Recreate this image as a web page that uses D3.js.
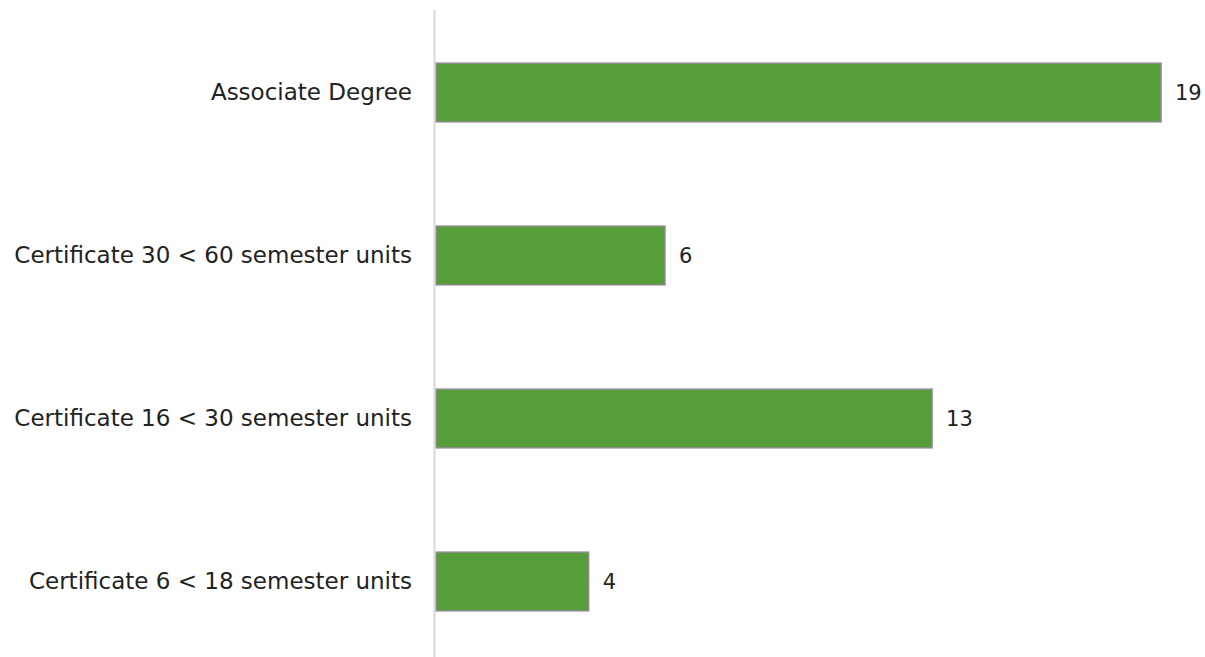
<!DOCTYPE html>
<html>
<head>
<meta charset="utf-8">
<script src="https://cdn.jsdelivr.net/npm/d3@7"></script>
<style>
  body { margin: 0; background: #fff; }
  text { font-family: "DejaVu Sans", sans-serif; fill: #222; }
</style>
</head>
<body>
<div id="chart-area"></div>
<script>
// SVG Size
var width = 1205,
	height = 657;

// data
var categories = ["Associate Degree", "Certificate 30 < 60 semester units", "Certificate 16 < 30 semester units", "Certificate 6 < 18 semester units"];
var values = [19, 6, 13, 4];

var data = categories.map(function(c, i){ return {name: c, value: values[i]}; });

var svg = d3.select("#chart-area")
		.append("svg")
		.attr("width", width)
		.attr("height", height);

var x = d3.scaleLinear()
		.domain([0, 19])
		.range([436, 1161]);

var y = d3.scaleBand()
		.domain(categories)
		.range([11, 663])
		.paddingInner(0.64)
		.paddingOuter(0.32);

// bars
svg.selectAll("rect.bar")
		.data(data)
		.enter()
		.append("rect")
		.attr("class", "bar")
		.attr("x", x(0))
		.attr("y", function(d){ return y(d.name); })
		.attr("width", function(d){ return x(d.value) - x(0); })
		.attr("height", y.bandwidth())
		.attr("fill", "#559e3a")
		.attr("stroke", "#8c8c8c")
		.attr("stroke-width", 1.5);

// axis line
svg.append("line")
		.attr("x1", 434.5).attr("x2", 434.5)
		.attr("y1", 10).attr("y2", height)
		.attr("stroke", "#d9d9d9")
		.attr("stroke-width", 2);

// category labels
var yAxis = d3.axisLeft(y).tickSize(0).tickPadding(0);
var g = svg.append("g")
		.attr("transform", "translate(412,0)")
		.call(yAxis);
g.select(".domain").remove();
g.selectAll("text")
		.style("font-size", "23px")
		.style("font-family", "'DejaVu Sans', sans-serif")
		.attr("fill", "#222");

// value labels
svg.selectAll("text.value")
		.data(data)
		.enter()
		.append("text")
		.attr("class", "value")
		.attr("x", function(d){ return x(d.value) + 14; })
		.attr("y", function(d){ return y(d.name) + y.bandwidth() / 2; })
		.attr("dy", "0.35em")
		.style("font-size", "21px")
		.text(function(d){ return d.value; });
</script>
</body>
</html>
